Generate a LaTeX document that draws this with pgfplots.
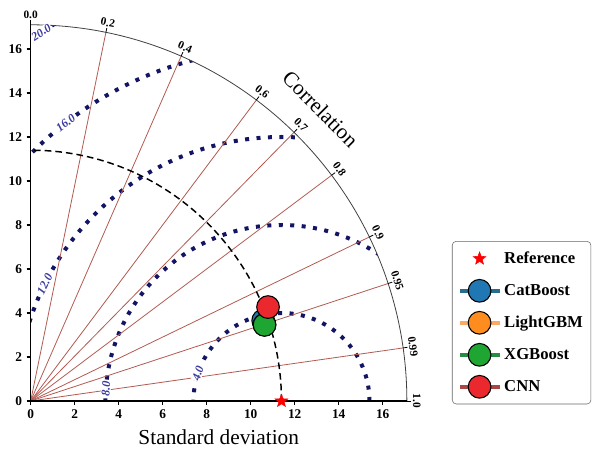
\documentclass[border=0pt]{standalone}
\usepackage{fontspec}
\setmainfont{Liberation Serif}
\usepackage{pgfplots}
\pgfplotsset{compat=1.18}
\definecolor{dotnavy}{RGB}{20,20,100}
\definecolor{corrline}{RGB}{178,90,80}
\definecolor{contlab}{RGB}{60,60,160}
\definecolor{catblue}{RGB}{31,119,180}
\definecolor{catline}{RGB}{40,110,140}
\definecolor{lgbmorange}{RGB}{255,140,30}
\definecolor{lgbmline}{RGB}{250,170,100}
\definecolor{xgbgreen}{RGB}{30,165,50}
\definecolor{xgbline}{RGB}{40,140,70}
\definecolor{cnnred}{RGB}{235,40,45}
\definecolor{cnnline}{RGB}{170,70,70}
\pgfdeclareplotmark{fstar}{%
 \pgfpathmoveto{\pgfpointpolar{90}{\pgfplotmarksize}}%
 \pgfpathlineto{\pgfpointpolar{126}{0.42\pgfplotmarksize}}%
 \pgfpathlineto{\pgfpointpolar{162}{\pgfplotmarksize}}%
 \pgfpathlineto{\pgfpointpolar{198}{0.42\pgfplotmarksize}}%
 \pgfpathlineto{\pgfpointpolar{234}{\pgfplotmarksize}}%
 \pgfpathlineto{\pgfpointpolar{270}{0.42\pgfplotmarksize}}%
 \pgfpathlineto{\pgfpointpolar{306}{\pgfplotmarksize}}%
 \pgfpathlineto{\pgfpointpolar{342}{0.42\pgfplotmarksize}}%
 \pgfpathlineto{\pgfpointpolar{18}{\pgfplotmarksize}}%
 \pgfpathlineto{\pgfpointpolar{54}{0.42\pgfplotmarksize}}%
 \pgfpathclose\pgfusepathqfillstroke}
\begin{document}
\begin{tikzpicture}
% construction lines of the Taylor diagram
\begin{scope}[x=16.5pt,y=16.5pt]
  \begin{scope}
    \clip (0,0) -- (17.1,0) arc[start angle=0,end angle=90,radius=17.1] -- cycle;
    \foreach \r in {4,8,12,16,20}
      \draw[dotnavy, line width=3pt, dash pattern=on 3pt off 5.6pt] (11.4,0) circle[radius=\r];
  \end{scope}
  \foreach \c in {0.2,0.4,0.6,0.7,0.8,0.9,0.95,0.99} {
    \pgfmathsetmacro\a{acos(\c)}
    \draw[corrline, line width=0.6pt] (0,0) -- (\a:17.1);
  }
  \draw[black, line width=1.1pt, dash pattern=on 5pt off 3pt] (11.4,0) arc[start angle=0,end angle=90,radius=11.4];
  \draw[black!75, line width=0.6pt] (17.1,0) arc[start angle=0,end angle=90,radius=17.1];
  \foreach \c/\t in {0/0.0,0.2/0.2,0.4/0.4,0.6/0.6,0.7/0.7,0.8/0.8,0.9/0.9,0.95/0.95,0.99/0.99,1/1.0} {
    \pgfmathsetmacro\a{acos(\c)}
    \draw[black, line width=0.6pt] (\a:17.1) -- (\a:17.3);
    \node[rotate=\a-90, anchor=south, inner sep=1pt, font=\bfseries\fontsize{8.5}{10}\selectfont] at (\a:17.3) {\t};
  }
  \foreach \ang/\r/\t in {161.6/4/4.0, 175.9/8/8.0, 153.7/12/12.0, 127.8/16/16.0, 123.1/20/20.0}
    \node[contlab, rotate=\ang-90, fill=white, inner sep=0.6pt, font=\bfseries\itshape\fontsize{9}{10}\selectfont] at ([shift={(\ang:\r)}]11.4,0) {\t};
  \node[rotate=-45, font=\fontsize{16}{19}\selectfont] at (45.2:18.7) {Correlation};
\end{scope}
\begin{axis}[
  anchor=origin, at={(0,0)},
  x=16.5pt, y=16.5pt,
  xmin=0, xmax=17.1, ymin=0, ymax=17.1,
  axis lines=left,
  axis line style={-, black, line width=0.8pt},
  xtick={0,2,...,16}, ytick={0,2,...,16},
  tick align=outside, major tick length=3pt,
  tick style={black, line width=0.8pt},
  ticklabel style={font=\bfseries\fontsize{10}{12}\selectfont},
  /pgf/number format/assume math mode=true,
  clip=false,
  xlabel={Standard deviation},
  xlabel style={at={(axis description cs:0.5,0)}, anchor=center, yshift=-27pt, font=\fontsize{16}{19}\selectfont},
  legend style={at={(axis cs:19.15,7.27)}, anchor=north west, draw=black!60, rounded corners=3pt,
    font=\bfseries\fontsize{12.5}{14}\selectfont, row sep=6.2pt, inner sep=4pt},
  legend cell align=left,
]
\addplot[only marks, mark=fstar, mark size=5pt, color=red, mark options={fill=red, draw=red},
  legend image code/.code={\path[draw=none, fill=none] (15pt,-9pt) rectangle (15pt,9pt); \draw[mark=fstar, mark size=5pt, red, mark options={fill=red, draw=red}] plot coordinates {(15pt,0pt)};}]
  coordinates {(11.4,0)};
\addlegendentry{Reference}
\addplot[only marks, mark=*, mark size=8.5pt, mark options={fill=catblue, draw=black, line width=0.8pt},
  legend image code/.code={\draw[catline, line width=3pt] (0pt,0pt) -- (30pt,0pt); \draw[fill=catblue, draw=black, line width=0.8pt] (15pt,0pt) circle[radius=8.5pt];}]
  coordinates {(10.57,3.66)};
\addlegendentry{CatBoost}
\addplot[only marks, mark=*, mark size=8.5pt, mark options={fill=lgbmorange, draw=black, line width=0.8pt},
  legend image code/.code={\draw[lgbmline, line width=3pt] (0pt,0pt) -- (30pt,0pt); \draw[fill=lgbmorange, draw=black, line width=0.8pt] (15pt,0pt) circle[radius=8.5pt];}]
  coordinates {(10.63,3.47)};
\addlegendentry{LightGBM}
\addplot[only marks, mark=*, mark size=8.5pt, mark options={fill=xgbgreen, draw=black, line width=0.8pt},
  legend image code/.code={\draw[xgbline, line width=3pt] (0pt,0pt) -- (30pt,0pt); \draw[fill=xgbgreen, draw=black, line width=0.8pt] (15pt,0pt) circle[radius=8.5pt];}]
  coordinates {(10.63,3.46)};
\addlegendentry{XGBoost}
\addplot[only marks, mark=*, mark size=8.5pt, mark options={fill=cnnred, draw=black, line width=0.8pt},
  legend image code/.code={\draw[cnnline, line width=3pt] (0pt,0pt) -- (30pt,0pt); \draw[fill=cnnred, draw=black, line width=0.8pt] (15pt,0pt) circle[radius=8.5pt];}]
  coordinates {(10.79,4.27)};
\addlegendentry{CNN}
\end{axis}
\pgfresetboundingbox
\path (-23pt,-36.75pt) rectangle (424pt,300.75pt);
\end{tikzpicture}
\end{document}
